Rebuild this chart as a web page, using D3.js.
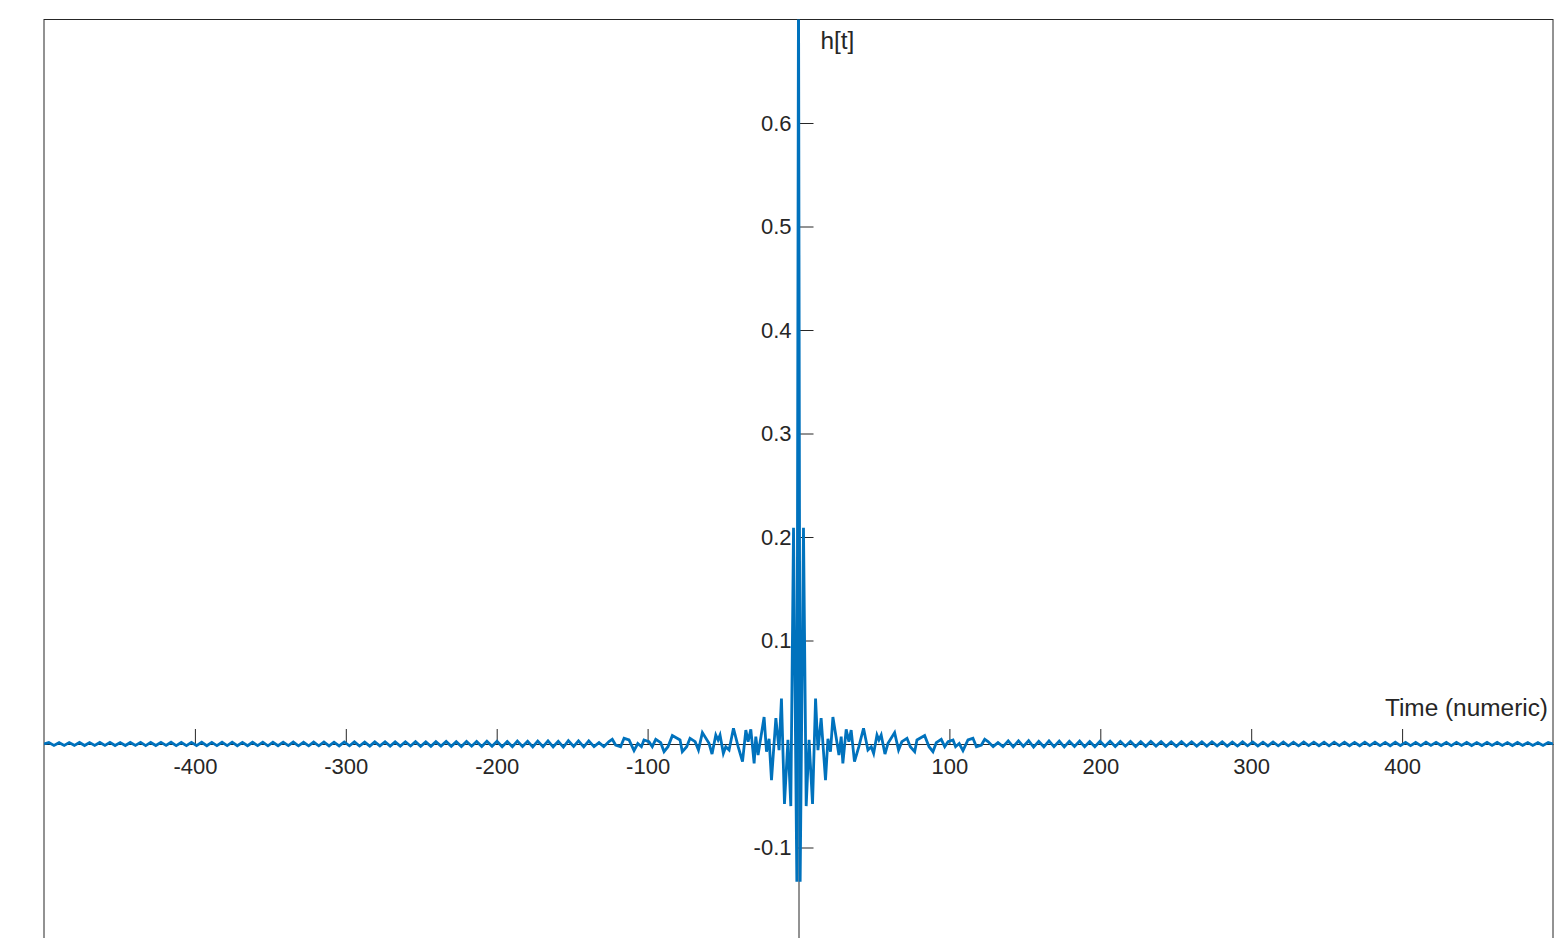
<!DOCTYPE html>
<html>
<head>
<meta charset="utf-8">
<script src="https://cdn.jsdelivr.net/npm/d3@7"></script>
<style>
  html, body { margin: 0; padding: 0; background: #fff; }
  svg { display: block; }
  text { font-family: "Liberation Sans", Arial, Helvetica, sans-serif; fill: #262626; }
</style>
</head>
<body>
<svg id="chart" width="1564" height="938"></svg>
<script>
// ---- Data (response is symmetric about t = 0; values for t >= 0) ----
const tCore = [0, 1.1, 3.3, 5.1, 7.0, 9.3, 11.3, 12.9, 15.0, 17.9, 19.5, 21.2, 22.8, 26.8, 28.3, 29.4, 31.6, 33.4, 34.9, 37.1,
  40.0, 43.1, 46.0, 48.2, 49.8, 52.0, 53.3, 54.8, 57.3, 59.3, 63.7, 66.3, 68.5, 71.9, 74.1, 77.0, 78.5, 83.6, 86.5, 89.1,
  91.3, 94.6, 96.9, 99.1, 102.4, 104.1, 106.5, 109.0, 112.3, 115.6, 117.9, 121.2, 123.4, 125.6, 129.0, 132.2];
const hCore = [0.75, -0.133, 0.209, -0.060, 0.004, -0.058, 0.044, -0.006, 0.025, -0.035, 0.005, -0.0074, 0.026, -0.0106, 0.0071, -0.0187, 0.0142, 0.0023, 0.0135, -0.0171,
  -0.0026, 0.0152, -0.0058, -0.0026, -0.0090, 0.0087, 0.0039, 0.0087, -0.0097, 0.0006, 0.0110, -0.0058, 0.0023, 0.0055, -0.0026, -0.0074, 0.0039, 0.0081, -0.0026, -0.0074,
  0.0013, 0.0045, -0.0026, 0.0023, 0.0039, -0.0026, 0.0005, -0.0064, 0.0039, 0.0055, -0.0026, -0.0010, 0.0045, 0.0023, -0.0026, 0.0013];
const tTail = [135.5, 139.0, 142.3, 145.8, 149.0, 152.5, 155.8, 159.2, 162.6, 166.0, 169.3, 172.8, 176.1, 179.5, 182.9, 186.3, 189.6, 193.0, 196.4, 199.8,
  203.1, 206.5, 209.9, 213.3, 216.6, 220.0, 223.4, 226.8, 230.1, 233.5, 236.9, 240.3, 243.6, 247.0, 250.4, 253.8, 257.1, 260.5, 263.9, 267.3,
  270.6, 274.0, 277.4, 280.8, 284.1, 287.5, 290.9, 294.3, 297.6, 301.0, 304.4, 307.8, 311.1, 314.5, 317.9, 321.3, 324.6, 328.0, 331.4, 334.8,
  338.1, 341.5, 344.9, 348.3, 351.6, 355.0, 358.4, 361.8, 365.1, 368.5, 371.9, 375.3, 378.6, 382.0, 385.4, 388.8, 392.1, 395.5, 398.9, 402.3,
  405.6, 409.0, 412.4, 415.8, 419.1, 422.5, 425.9, 429.3, 432.6, 436.0, 439.4, 442.8, 446.1, 449.5, 452.9, 456.3, 459.6, 463.0, 466.4, 469.8,
  473.1, 476.5, 479.9, 483.3, 486.6, 490.0, 493.4, 496.8, 500.0];
const hTail = [-0.0026, 0.0030, -0.0028, 0.0031, -0.0024, 0.0032, -0.0030, 0.0026, -0.0027, 0.0030, -0.0025, 0.0029, -0.0028, 0.0027, -0.0024, 0.0028, -0.0026, 0.0025, -0.0027, 0.0026,
  -0.0022, 0.0026, -0.0025, 0.0024, -0.0021, 0.0025, -0.0024, 0.0022, -0.0023, 0.0024, -0.0020, 0.0023, -0.0022, 0.0021, -0.0022, 0.0023, -0.0019, 0.0022, -0.0021, 0.0020,
  -0.0021, 0.0022, -0.0018, 0.0021, -0.0020, 0.0019, -0.0020, 0.0021, -0.0017, 0.0020, -0.0019, 0.0018, -0.0019, 0.0020, -0.0017, 0.0019, -0.0018, 0.0017, -0.0018, 0.0019,
  -0.0016, 0.0018, -0.0017, 0.0017, -0.0018, 0.0018, -0.0016, 0.0017, -0.0017, 0.0016, -0.0017, 0.0018, -0.0015, 0.0017, -0.0016, 0.0016, -0.0017, 0.0017, -0.0015, 0.0016,
  -0.0016, 0.0015, -0.0016, 0.0017, -0.0014, 0.0016, -0.0015, 0.0015, -0.0016, 0.0016, -0.0014, 0.0015, -0.0015, 0.0014, -0.0015, 0.0016, -0.0013, 0.0015, -0.0014, 0.0014,
  -0.0015, 0.0015, -0.0013, 0.0014, -0.0014, 0.0013, -0.0014, 0.0014, 0.0000];
const xTicks = [-400, -300, -200, -100, 100, 200, 300, 400];
const yTicks = [-0.1, 0.1, 0.2, 0.3, 0.4, 0.5, 0.6];
const xDomain = [-500, 500];
const yDomain = [-0.2, 0.7];
const xLabel = "Time (numeric)";
const yLabel = "h[t]";

// ---- Build the point list (mirror the positive half) ----
const tPos = tCore.concat(tTail);
const hPos = hCore.concat(hTail);
const points = [];
for (let i = tPos.length - 1; i >= 1; i--) points.push({ t: -tPos[i], h: hPos[i] });
for (let i = 0; i < tPos.length; i++) points.push({ t: tPos[i], h: hPos[i] });

// ---- Layout ----
const L = 44, R = 1553, T = 19.5, B = 951;
const svg = d3.select("#chart");
const x = d3.scaleLinear().domain(xDomain).range([L, R]);
const y = d3.scaleLinear().domain(yDomain).range([B, T]);
const axisColor = "#262626";
const tickFont = 22, labelFont = 24.4;
const fontFam = '"Liberation Sans", Arial, Helvetica, sans-serif';

svg.append("rect").attr("width", 1564).attr("height", 938).attr("fill", "#fff");

svg.append("defs").append("clipPath").attr("id", "clip")
  .append("rect").attr("x", L).attr("y", T).attr("width", R - L).attr("height", B - T);

// box
svg.append("rect").attr("x", L).attr("y", T).attr("width", R - L).attr("height", B - T)
  .attr("fill", "none").attr("stroke", axisColor).attr("stroke-width", 1);

// x axis through origin (drawn beneath the data)
const gx = svg.append("g").attr("transform", `translate(0,${y(0)})`)
  .call(d3.axisBottom(x).tickValues(xTicks).tickFormat(d => String(d))
    .tickSizeInner(-15).tickSizeOuter(0).tickPadding(14));
// y axis through origin
const gy = svg.append("g").attr("transform", `translate(${x(0)},0)`)
  .call(d3.axisLeft(y).tickValues(yTicks).tickFormat(d => String(d))
    .tickSizeInner(-15).tickSizeOuter(0).tickPadding(7));

[gx, gy].forEach(g => {
  g.select(".domain").attr("stroke", axisColor).attr("stroke-width", 1);
  g.selectAll(".tick line").attr("stroke", axisColor).attr("stroke-width", 1);
  g.selectAll(".tick text").attr("fill", axisColor).style("font-size", tickFont + "px")
    .style("font-family", fontFam);
});

// data line
svg.append("path")
  .datum(points)
  .attr("clip-path", "url(#clip)")
  .attr("fill", "none")
  .attr("stroke", "#0072BD")
  .attr("stroke-width", 2.8)
  .attr("stroke-linejoin", "miter")
  .attr("d", d3.line().x(d => x(d.t)).y(d => y(d.h)));

// labels
svg.append("text").attr("x", x(0) + 22).attr("y", 49)
  .style("font-size", labelFont + "px").text(yLabel);
svg.append("text").attr("x", R - 5).attr("y", 716).attr("text-anchor", "end")
  .style("font-size", labelFont + "px").text(xLabel);
</script>
</body>
</html>
